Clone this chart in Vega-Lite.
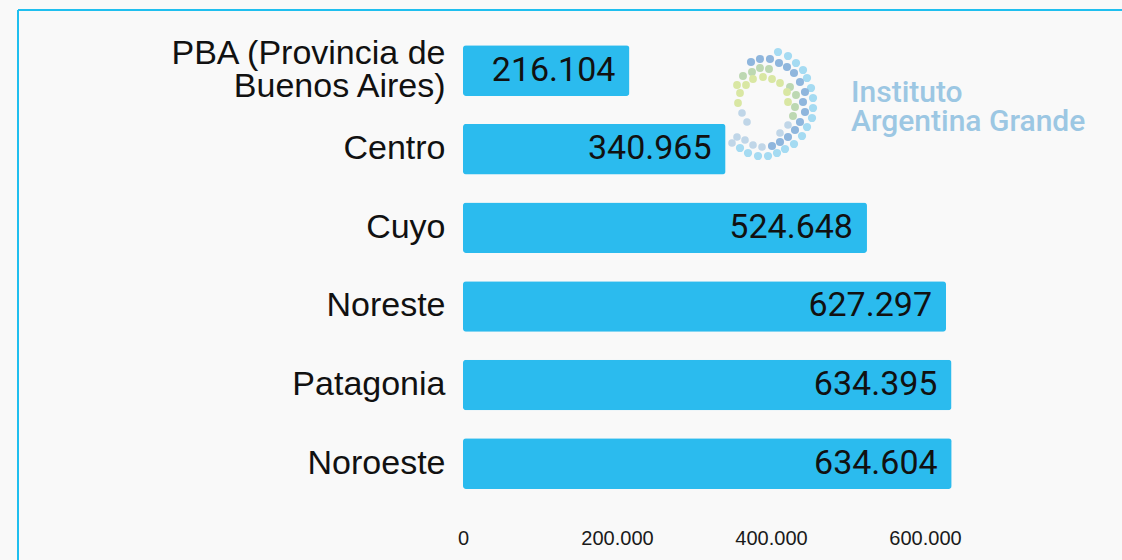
{
  "$schema": "https://vega.github.io/schema/vega-lite/v6.json",
  "autosize": "none",
  "width": 1104,
  "height": 550,
  "padding": {"left": 18, "top": 10, "right": 0, "bottom": 0},
  "background": "#f9f9f9",
  "config": {
    "view": {"stroke": null},
    "locale": {"number": {"decimal": ",", "thousands": ".", "grouping": [3], "currency": ["$", ""]}}
  },
  "datasets": {
    "regions": [
      {"region": "PBA (Provincia de Buenos Aires)", "value": 216104},
      {"region": "Centro", "value": 340965},
      {"region": "Cuyo", "value": 524648},
      {"region": "Noreste", "value": 627297},
      {"region": "Patagonia", "value": 634395},
      {"region": "Noroeste", "value": 634604}
    ],
    "logo": [
      {"lx": 58, "ly": 12, "kind": "outer"}, {"lx": 68, "ly": 16, "kind": "outer"}, {"lx": 76, "ly": 23, "kind": "outer"},
      {"lx": 83, "ly": 30, "kind": "outer"}, {"lx": 87, "ly": 38, "kind": "outer"}, {"lx": 91, "ly": 48, "kind": "outer"},
      {"lx": 93, "ly": 58, "kind": "outer"}, {"lx": 93, "ly": 68, "kind": "outer"}, {"lx": 92, "ly": 78, "kind": "outer"},
      {"lx": 87, "ly": 87, "kind": "outer"}, {"lx": 82, "ly": 96, "kind": "outer"}, {"lx": 74, "ly": 104, "kind": "outer"},
      {"lx": 65, "ly": 109, "kind": "outer"}, {"lx": 57, "ly": 113, "kind": "outer"}, {"lx": 48, "ly": 116, "kind": "outer"},
      {"lx": 38, "ly": 116, "kind": "outer"}, {"lx": 28, "ly": 113, "kind": "outer"}, {"lx": 20, "ly": 108, "kind": "outer"},
      {"lx": 12, "ly": 103, "kind": "faint"},
      {"lx": 40, "ly": 19, "kind": "inner"}, {"lx": 50, "ly": 19, "kind": "inner"}, {"lx": 31, "ly": 22, "kind": "inner"},
      {"lx": 59, "ly": 23, "kind": "inner"}, {"lx": 67, "ly": 27, "kind": "inner"}, {"lx": 74, "ly": 33, "kind": "inner"},
      {"lx": 80, "ly": 42, "kind": "inner"}, {"lx": 85, "ly": 52, "kind": "inner"}, {"lx": 83, "ly": 62, "kind": "inner"},
      {"lx": 85, "ly": 72, "kind": "inner"}, {"lx": 80, "ly": 82, "kind": "inner"}, {"lx": 75, "ly": 90, "kind": "inner"},
      {"lx": 68, "ly": 97, "kind": "inner"}, {"lx": 60, "ly": 102, "kind": "inner"}, {"lx": 52, "ly": 106, "kind": "inner"},
      {"lx": 42, "ly": 107, "kind": "faint"}, {"lx": 33, "ly": 105, "kind": "faint"},
      {"lx": 40, "ly": 28, "kind": "green"}, {"lx": 49, "ly": 29, "kind": "green"}, {"lx": 32, "ly": 32, "kind": "green"},
      {"lx": 70, "ly": 47, "kind": "green"}, {"lx": 76, "ly": 55, "kind": "green"}, {"lx": 75, "ly": 67, "kind": "green"},
      {"lx": 73, "ly": 76, "kind": "green"}, {"lx": 23, "ly": 36, "kind": "green"},
      {"lx": 33, "ly": 39, "kind": "yellow"}, {"lx": 43, "ly": 37, "kind": "yellow"}, {"lx": 52, "ly": 39, "kind": "yellow"},
      {"lx": 60, "ly": 43, "kind": "yellow"}, {"lx": 26, "ly": 45, "kind": "yellow"}, {"lx": 17, "ly": 45, "kind": "yellow"},
      {"lx": 20, "ly": 53, "kind": "yellow"}, {"lx": 18, "ly": 63, "kind": "yellow"}, {"lx": 67, "ly": 52, "kind": "yellow"},
      {"lx": 68, "ly": 62, "kind": "yellow"},
      {"lx": 22, "ly": 73, "kind": "faint"}, {"lx": 27, "ly": 82, "kind": "faint"}, {"lx": 68, "ly": 85, "kind": "faint"},
      {"lx": 60, "ly": 93, "kind": "faint"}, {"lx": 17, "ly": 97, "kind": "faint"}, {"lx": 25, "ly": 100, "kind": "faint"}
    ]
  },
  "layer": [
    {
      "data": {"name": "regions"},
      "encoding": {
        "y": {
          "field": "region", "type": "nominal", "sort": null,
          "scale": {"paddingInner": 0.357, "paddingOuter": 0.677, "align": 0.332},
          "axis": {
            "title": null, "orient": "left", "offset": -445, "ticks": false, "domain": false,
            "labelPadding": 18, "labelFontSize": 34, "labelFont": "Liberation Sans", "labelColor": "#111111",
            "labelLimit": 600, "labelLineHeight": 33,
            "labelOffset": {"condition": {"test": "datum.value == 'PBA (Provincia de Buenos Aires)'", "value": -17}, "value": 0},
            "labelExpr": "datum.label == 'PBA (Provincia de Buenos Aires)' ? ['PBA (Provincia de', 'Buenos Aires)'] : datum.label"
          }
        },
        "x": {
          "field": "value", "type": "quantitative",
          "scale": {"domain": [-577922, 855844], "nice": false, "zero": false},
          "axis": {
            "title": null, "orient": "bottom", "offset": -22, "values": [0, 200000, 400000, 600000], "format": ",d",
            "grid": false, "ticks": false, "domain": false, "labelPadding": 0, "labelBaseline": "middle",
            "labelFontSize": 20, "labelFont": "Liberation Sans", "labelColor": "#1a1a1a"
          }
        }
      },
      "layer": [
        {"mark": {"type": "bar", "color": "#2bbbee", "cornerRadius": 3}},
        {
          "mark": {"type": "text", "align": "right", "baseline": "middle", "dx": -14, "font": "Roboto", "fontSize": 34, "color": "#111111"},
          "encoding": {"text": {"field": "value", "type": "quantitative", "format": ",d"}}
        }
      ]
    },
    {
      "layer": [
        {
          "data": {"name": "logo"},
          "mark": {"type": "circle", "opacity": 1},
          "encoding": {
            "x": {"field": "lx", "type": "quantitative", "scale": {"domain": [-702, 402], "nice": false, "zero": false}, "axis": null},
            "y": {"field": "ly", "type": "quantitative", "scale": {"domain": [-30, 520], "nice": false, "zero": false, "reverse": true}, "axis": null},
            "color": {"field": "kind", "type": "nominal", "legend": null,
              "scale": {"domain": ["outer", "inner", "green", "yellow", "faint"], "range": ["#a5dbf2", "#8fb6dd", "#bdd8b2", "#d9e7a3", "#c0d6e8"]}},
            "size": {"field": "kind", "type": "nominal", "legend": null,
              "scale": {"domain": ["outer", "inner", "green", "yellow", "faint"], "range": [68, 58, 48, 36, 16]}}
          }
        },
        {
          "data": {"values": [{"lx": 131, "ly": 62, "label": ["Instituto", "Argentina Grande"]}]},
          "mark": {"type": "text", "align": "left", "baseline": "alphabetic", "font": "Roboto", "fontSize": 30, "fontWeight": 500, "lineHeight": 29, "color": "#9cc7e3"},
          "encoding": {
            "x": {"field": "lx", "type": "quantitative", "scale": {"domain": [-702, 402], "nice": false, "zero": false}, "axis": null},
            "y": {"field": "ly", "type": "quantitative", "scale": {"domain": [-30, 520], "nice": false, "zero": false, "reverse": true}, "axis": null},
            "text": {"field": "label"}
          }
        },
        {
          "data": {"values": [{}]},
          "mark": {"type": "rule", "color": "#1fbfef", "strokeWidth": 2},
          "encoding": {"y": {"datum": -30, "type": "quantitative", "scale": {"domain": [-30, 520], "nice": false, "zero": false, "reverse": true}, "axis": null}}
        },
        {
          "data": {"values": [{}]},
          "mark": {"type": "rule", "color": "#1fbfef", "strokeWidth": 2},
          "encoding": {"x": {"datum": -702, "type": "quantitative", "scale": {"domain": [-702, 402], "nice": false, "zero": false}, "axis": null}}
        }
      ]
    }
  ],
  "resolve": {
    "scale": {"x": "independent", "y": "independent", "color": "independent", "size": "independent"},
    "axis": {"x": "independent", "y": "independent"}
  }
}
